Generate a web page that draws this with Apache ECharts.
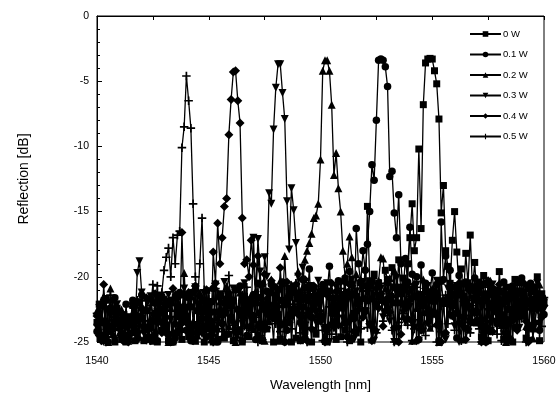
<!DOCTYPE html>
<html>
<head>
<meta charset="utf-8">
<script src="https://cdn.jsdelivr.net/npm/echarts@6/dist/echarts.min.js"></script>
<style>
html,body{margin:0;padding:0;background:#fff;}
#chart{width:559px;height:404px;}
</style>
</head>
<body>
<div id="chart"></div>
<script>
// Wavelength grid (nm): samples every 0.1 nm from 1540 to 1560
const wavelengthStart = 1540;
const wavelengthStep = 0.1;
const seriesNames = ['0 W', '0.1 W', '0.2 W', '0.3 W', '0.4 W', '0.5 W'];

// Reflection [dB], one value per 0.1 nm (rows of 1 nm)
const refl0W = [
-23.5,-22.1,-24.6,-24.9,-21.8,-24.2,-22.7,-23.9,-25.0,-22.4,
-23.6,-24.8,-22.9,-25.0,-24.5,-23.1,-22.2,-24.9,-23.4,-21.9,
-23.2,-24.9,-22.6,-21.7,-23.9,-24.7,-22.8,-25.0,-21.5,-24.1,
-22.5,-23.7,-24.9,-22.0,-25.0,-21.6,-24.3,-22.9,-24.8,-21.4,
-23.0,-24.6,-22.3,-21.2,-24.9,-22.6,-24.2,-21.8,-25.0,-22.4,
-24.0,-21.9,-25.0,-22.7,-24.8,-21.3,-22.9,-24.7,-21.7,-24.4,
-22.2,-24.9,-21.0,-24.1,-22.6,-25.0,-21.5,-22.8,-24.6,-21.9,
-23.3,-22.0,-24.5,-21.6,-24.9,-22.4,-24.0,-21.2,-22.7,-25.0,
-21.4,-22.9,-24.8,-21.8,-23.6,-22.1,-20.9,-25.0,-22.5,-24.7,
-21.7,-24.9,-22.3,-24.2,-20.8,-22.6,-25.0,-21.5,-24.4,-22.0,
-23.2,-21.3,-24.0,-25.0,-21.1,-23.7,-22.2,-24.8,-21.6,-24.6,
-22.4,-24.1,-21.2,-24.9,-20.6,-22.8,-24.3,-21.9,-25.0,-20.7,
-22.6,-14.6,-20.3,-21.7,-19.8,-22.1,-20.5,-21.5,-21.8,-19.5,
-20.2,-21.6,-19.3,-20.8,-22.0,-18.7,-21.3,-20.1,-22.4,-19.0,
-17.0,-14.4,-18.0,-17.0,-10.2,-16.3,-6.8,-3.6,-3.3,-3.25,
-3.3,-4.2,-5.2,-7.9,-15.1,-13.0,-18.0,-19.2,-20.5,-17.2,
-15.0,-18.1,-21.0,-19.4,-21.5,-18.2,-20.6,-16.8,-20.9,-18.9,
-21.8,-20.4,-24.6,-19.9,-21.3,-24.9,-20.7,-22.2,-21.0,-23.4,
-19.6,-21.9,-24.8,-20.8,-22.5,-21.4,-25.0,-20.2,-22.0,-21.1,
-22.8,-21.5,-24.7,-20.9,-22.1,-24.0,-21.7,-20.0,-24.9,-21.3,
-22.0
];
const refl01W = [
-24.2,-22.8,-23.5,-21.9,-24.7,-25.0,-22.4,-24.0,-21.6,-23.3,
-22.7,-24.5,-24.9,-22.1,-24.8,-23.6,-21.8,-22.9,-24.3,-23.2,
-21.4,-23.8,-24.8,-24.6,-21.7,-23.4,-22.0,-24.9,-22.8,-21.5,
-23.9,-22.2,-24.4,-21.8,-25.0,-24.7,-22.6,-21.2,-23.5,-22.3,
-24.1,-21.6,-24.9,-23.7,-21.0,-24.3,-22.4,-23.2,-21.9,-24.6,
-22.1,-23.4,-20.9,-24.0,-25.0,-21.5,-23.6,-22.0,-24.4,-21.3,
-23.1,-21.8,-24.2,-22.5,-20.7,-24.9,-21.9,-24.5,-22.2,-23.8,
-21.4,-24.8,-20.5,-23.6,-22.1,-24.0,-21.1,-22.8,-20.6,-23.2,
-22.5,-21.0,-23.7,-20.4,-25.0,-24.1,-21.6,-23.0,-20.9,-22.7,
-21.3,-23.5,-20.2,-24.7,-21.8,-19.4,-23.1,-20.8,-22.0,-21.5,
-23.0,-20.6,-24.9,-21.1,-19.2,-22.8,-21.7,-23.4,-20.3,-22.1,
-21.6,-20.1,-24.6,-19.6,-21.4,-23.2,-16.3,-19.0,-20.5,-18.0,
-19.5,-17.5,-15.0,-11.4,-12.6,-8.0,-3.4,-3.3,-3.4,-3.9,
-5.4,-12.3,-11.9,-15.1,-17.0,-13.7,-19.0,-21.0,-18.6,-20.4,
-16.2,-19.8,-21.5,-20.0,-24.8,-19.1,-21.7,-20.5,-22.8,-21.2,
-19.7,-21.9,-20.6,-24.9,-15.8,-20.2,-18.4,-21.6,-19.5,-22.0,
-20.8,-24.7,-19.9,-21.3,-23.1,-20.4,-22.2,-21.0,-23.5,-20.1,
-22.7,-21.2,-23.8,-20.6,-25.0,-21.4,-24.2,-20.9,-22.5,-23.6,
-21.1,-22.9,-20.4,-23.3,-21.7,-24.8,-20.7,-23.9,-21.3,-22.1,
-20.1,-23.0,-21.8,-24.9,-20.5,-23.7,-21.2,-22.3,-24.1,-21.6,
-22.9
];
const refl02W = [
-22.6,-24.0,-23.1,-21.5,-23.8,-25.0,-20.9,-24.4,-22.9,-23.5,
-24.3,-22.5,-23.7,-24.9,-24.9,-23.4,-24.1,-21.9,-23.0,-24.6,
-22.3,-23.9,-21.6,-24.5,-23.2,-24.9,-24.7,-21.8,-23.3,-22.6,
-24.2,-21.7,-25.0,-22.4,-24.8,-21.3,-23.0,-22.1,-24.0,-19.7,
-22.8,-24.1,-21.5,-23.4,-24.9,-24.5,-21.2,-23.7,-22.6,-21.0,
-23.5,-24.8,-24.3,-20.8,-23.1,-21.9,-24.6,-22.4,-20.7,-23.8,
-21.6,-23.3,-25.0,-24.2,-21.2,-22.9,-20.6,-23.7,-22.5,-21.4,
-24.0,-21.1,-22.7,-23.9,-20.5,-24.9,-21.8,-23.4,-20.2,-22.8,
-21.5,-24.9,-20.3,-22.1,-18.4,-21.7,-23.3,-20.6,-22.5,-21.0,
-19.6,-22.2,-20.8,-18.7,-18.0,-17.4,-16.7,-15.5,-15.3,-14.4,
-11.0,-4.2,-3.4,-3.4,-4.2,-6.8,-12.2,-10.5,-13.2,-15.0,
-18.0,-20.0,-19.0,-16.9,-18.5,-21.2,-19.8,-22.0,-20.4,-21.6,
-19.3,-21.8,-20.6,-24.8,-19.9,-21.1,-20.3,-18.5,-18.6,-20.9,
-22.3,-20.1,-21.7,-19.5,-24.9,-20.8,-21.9,-23.0,-20.4,-22.1,
-21.0,-24.9,-20.6,-22.4,-21.3,-23.6,-20.2,-22.7,-21.5,-23.9,
-20.9,-22.5,-21.4,-25.0,-20.3,-22.0,-24.2,-21.6,-22.8,-20.7,
-22.2,-21.1,-23.4,-20.5,-24.8,-21.8,-23.9,-20.8,-22.4,-21.3,
-23.5,-20.6,-24.9,-24.0,-21.4,-22.9,-20.3,-23.2,-21.7,-22.5,
-20.8,-23.7,-21.5,-25.0,-24.3,-20.9,-22.6,-21.2,-23.0,-20.4,
-22.9,-21.6,-23.8,-20.7,-22.3,-24.7,-23.4,-22.0,-20.6,-22.8,
-21.5
];
const refl03W = [
-23.9,-22.4,-24.6,-25.0,-21.7,-24.2,-22.8,-23.5,-24.9,-22.1,
-23.4,-24.4,-24.9,-23.8,-24.7,-23.1,-22.3,-24.0,-19.7,-18.8,
-21.2,-23.6,-24.9,-24.3,-21.5,-23.0,-24.6,-22.7,-21.9,-23.7,
-22.5,-24.1,-21.4,-23.3,-25.0,-24.5,-21.8,-23.2,-22.6,-20.9,
-23.5,-21.6,-24.0,-24.8,-20.8,-23.7,-22.1,-24.4,-21.3,-22.9,
-21.1,-23.8,-25.0,-20.6,-24.2,-21.9,-23.1,-20.4,-22.8,-21.5,
-23.4,-20.9,-24.9,-24.1,-21.0,-23.6,-20.5,-22.7,-21.8,-23.0,
-17.0,-21.4,-17.1,-19.6,-22.3,-18.5,-20.0,-13.6,-14.4,-8.7,
-5.5,-3.7,-3.7,-5.9,-7.9,-14.2,-17.9,-13.2,-14.9,-17.4,
-20.0,-24.9,-19.3,-21.6,-23.0,-20.7,-22.1,-21.2,-23.5,-20.3,
-22.8,-21.0,-23.9,-20.5,-25.0,-21.7,-24.0,-20.8,-22.6,-21.4,
-23.2,-20.6,-21.9,-23.6,-20.2,-24.8,-21.1,-24.1,-21.8,-20.4,
-22.9,-21.3,-23.7,-20.7,-24.9,-24.3,-21.5,-20.9,-23.1,-22.2,
-20.5,-23.4,-21.7,-25.0,-20.1,-24.0,-21.2,-22.8,-23.5,-20.8,
-22.3,-21.0,-23.9,-20.6,-24.9,-21.4,-24.2,-22.0,-20.7,-23.3,
-21.6,-22.9,-20.3,-23.7,-21.9,-24.5,-24.8,-20.9,-23.0,-21.4,
-23.8,-20.7,-25.0,-21.3,-24.0,-22.6,-20.5,-23.2,-21.7,-22.9,
-20.8,-23.5,-22.0,-24.3,-24.9,-22.7,-23.6,-20.6,-22.3,-21.5,
-23.1,-21.8,-24.4,-20.9,-25.0,-23.7,-21.2,-22.8,-20.4,-23.9,
-21.5,-22.9,-20.7,-24.9,-21.9,-24.1,-22.2,-20.5,-23.6,-21.7,
-22.5
];
const refl04W = [
-23.0,-24.5,-24.9,-20.6,-23.7,-22.5,-24.1,-21.8,-23.4,-22.7,
-24.0,-22.9,-24.7,-23.3,-25.0,-24.4,-23.6,-22.2,-24.8,-23.1,
-22.4,-24.2,-21.6,-23.8,-24.9,-24.6,-21.3,-23.5,-22.0,-24.3,
-21.7,-23.1,-24.5,-25.0,-20.9,-23.6,-21.4,-24.0,-16.6,-22.4,
-23.5,-21.2,-24.3,-24.9,-20.7,-23.9,-21.5,-22.8,-24.1,-21.0,
-22.9,-24.4,-18.1,-20.5,-15.9,-19.0,-17.0,-14.6,-14.0,-9.1,
-6.4,-4.3,-4.2,-6.5,-8.2,-15.5,-19.0,-18.7,-20.0,-17.2,
-19.1,-21.4,-18.4,-20.6,-24.8,-19.8,-21.7,-23.0,-20.3,-22.1,
-20.8,-23.3,-19.3,-21.9,-25.0,-20.4,-23.5,-21.2,-22.4,-20.6,
-22.9,-21.5,-23.8,-20.2,-24.9,-21.0,-24.0,-20.7,-22.6,-21.3,
-23.4,-20.9,-25.0,-24.1,-21.6,-20.5,-22.8,-21.1,-23.7,-20.4,
-22.0,-23.5,-21.2,-20.6,-24.8,-24.2,-21.4,-22.5,-20.3,-23.1,
-21.7,-20.8,-23.6,-24.9,-24.0,-20.9,-22.4,-21.3,-23.8,-22.6,
-20.5,-22.7,-21.5,-23.9,-21.0,-25.0,-24.4,-20.7,-22.0,-23.2,
-21.8,-23.4,-20.6,-24.9,-21.4,-24.1,-22.2,-20.9,-23.5,-21.6,
-22.9,-21.1,-23.7,-20.4,-25.0,-21.8,-24.3,-22.0,-20.8,-23.0,
-21.4,-22.7,-20.5,-23.6,-21.9,-24.8,-24.0,-20.7,-22.6,-21.2,
-23.3,-20.9,-25.0,-21.6,-23.8,-20.3,-22.1,-24.2,-21.5,-22.8,
-20.6,-22.9,-21.3,-23.5,-24.9,-20.8,-23.2,-21.7,-24.1,-22.4,
-21.9,-20.5,-23.4,-25.0,-21.0,-23.7,-20.8,-22.5,-21.4,-23.1,
-22.2
];
const refl05W = [
-22.8,-23.6,-21.9,-24.3,-25.0,-23.9,-21.4,-24.6,-22.9,-23.2,
-24.1,-23.4,-24.8,-24.9,-23.9,-24.5,-22.3,-23.7,-21.8,-24.2,
-22.6,-23.8,-24.8,-24.0,-22.2,-20.6,-22.9,-20.7,-23.4,-21.2,
-19.5,-18.5,-17.8,-20.0,-17.0,-19.0,-16.8,-16.5,-10.1,-8.5,
-4.6,-6.5,-8.6,-14.4,-20.0,-22.0,-19.0,-15.5,-21.0,-23.3,
-21.7,-24.0,-25.0,-20.9,-23.5,-21.6,-24.2,-22.8,-21.1,-19.9,
-22.3,-23.7,-21.0,-24.4,-24.9,-21.4,-23.8,-20.8,-22.9,-24.1,
-21.5,-23.1,-25.0,-24.5,-20.6,-22.7,-23.9,-21.3,-22.5,-20.9,
-23.6,-21.8,-24.2,-24.9,-20.7,-23.3,-21.6,-24.0,-22.1,-20.5,
-22.8,-24.3,-21.2,-23.5,-25.0,-20.8,-23.9,-21.4,-22.6,-24.1,
-21.0,-24.9,-23.8,-20.6,-22.3,-24.4,-21.5,-23.0,-22.2,-20.9,
-23.7,-21.9,-25.0,-24.2,-20.7,-23.2,-21.6,-22.5,-24.0,-21.1,
-22.4,-23.9,-20.8,-24.8,-21.7,-24.3,-22.0,-20.5,-23.4,-21.8,
-23.0,-21.3,-24.1,-25.0,-20.6,-23.5,-21.9,-22.8,-20.4,-23.7,
-21.5,-24.9,-24.0,-20.8,-23.3,-21.7,-22.4,-24.5,-21.0,-22.6,
-23.8,-21.2,-25.0,-20.5,-24.2,-22.1,-21.4,-23.6,-20.9,-22.3,
-24.1,-21.6,-23.0,-24.9,-20.7,-23.5,-21.8,-24.3,-22.2,-20.6,
-22.9,-24.0,-21.3,-23.4,-25.0,-20.8,-23.9,-21.5,-22.1,-24.4,
-21.7,-24.9,-20.9,-24.2,-21.4,-23.1,-22.5,-20.6,-23.7,-21.9,
-23.2,-21.0,-25.0,-24.1,-20.8,-22.4,-23.6,-21.5,-22.0,-23.8,
-21.6
];

const xTickLabels = ['1540', '1545', '1550', '1555', '1560'];
const yTickLabels = ['-25', '-20', '-15', '-10', '-5', '0'];

const allValues = [refl0W, refl01W, refl02W, refl03W, refl04W, refl05W];
const symbols = [
  'rect',
  'circle',
  'triangle',
  'path://M0,0L10,0L5,10Z',
  'diamond',
  'path://M4,0H6V4H10V6H6V10H4V6H0V4H4Z'
];
const symbolSizes = [7, 7.5, 8, 8, 9, 8.5];

function toPairs(vals) {
  return vals.map((v, i) => [Number((wavelengthStart + i * wavelengthStep).toFixed(1)), v]);
}

const FONT = 'Liberation Sans, Arial, Helvetica, sans-serif';
const chart = echarts.init(document.getElementById('chart'), null, {renderer: 'canvas'});
chart.setOption({
  animation: false,
  backgroundColor: '#fff',
  textStyle: {fontFamily: FONT},
  grid: {left: 97, right: 15, top: 16, bottom: 62, show: true, borderColor: '#000', borderWidth: 1},
  legend: {
    orient: 'vertical',
    left: 464,
    top: 24,
    itemWidth: 31,
    itemHeight: 7,
    itemGap: 10.5,
    data: seriesNames,
    textStyle: {fontSize: 9.5, color: '#000', fontFamily: FONT, padding: [0, 0, 0, -3]}
  },
  xAxis: {
    type: 'value', min: 1540, max: 1560, interval: 2.5,
    name: 'Wavelength [nm]', nameLocation: 'middle', nameGap: 36,
    nameTextStyle: {fontSize: 13.5, color: '#000', fontFamily: FONT},
    axisLine: {lineStyle: {color: '#000', width: 1}},
    axisTick: {length: 4, lineStyle: {color: '#000'}},
    axisLabel: {
      color: '#000', fontSize: 10.5, margin: 14, fontFamily: FONT,
      formatter: v => { const s = String(v); return xTickLabels.indexOf(s) >= 0 ? s : ''; }
    },
    splitLine: {show: false}
  },
  yAxis: {
    type: 'value', min: -25, max: 0, interval: 5,
    name: 'Reflection [dB]', nameLocation: 'middle', nameGap: 66,
    nameTextStyle: {fontSize: 14, color: '#000', fontFamily: FONT},
    axisLine: {lineStyle: {color: '#000', width: 1}},
    axisTick: {inside: true, length: 5, lineStyle: {color: '#000'}},
    minorTick: {show: true, splitNumber: 5, length: 3, lineStyle: {color: '#000'}},
    axisLabel: {
      color: '#000', fontSize: 10.5, margin: 8, fontFamily: FONT,
      formatter: v => { const s = String(v); return yTickLabels.indexOf(s) >= 0 ? s : ''; }
    },
    splitLine: {show: false}
  },
  series: allValues.map((vals, k) => ({
    name: seriesNames[k],
    type: 'line',
    data: toPairs(vals),
    symbol: symbols[k],
    symbolSize: symbolSizes[k],
    showAllSymbol: true,
    itemStyle: {color: '#000'},
    lineStyle: {color: '#000', width: 1.3},
    emphasis: {disabled: true}
  }))
});
</script>
</body>
</html>
